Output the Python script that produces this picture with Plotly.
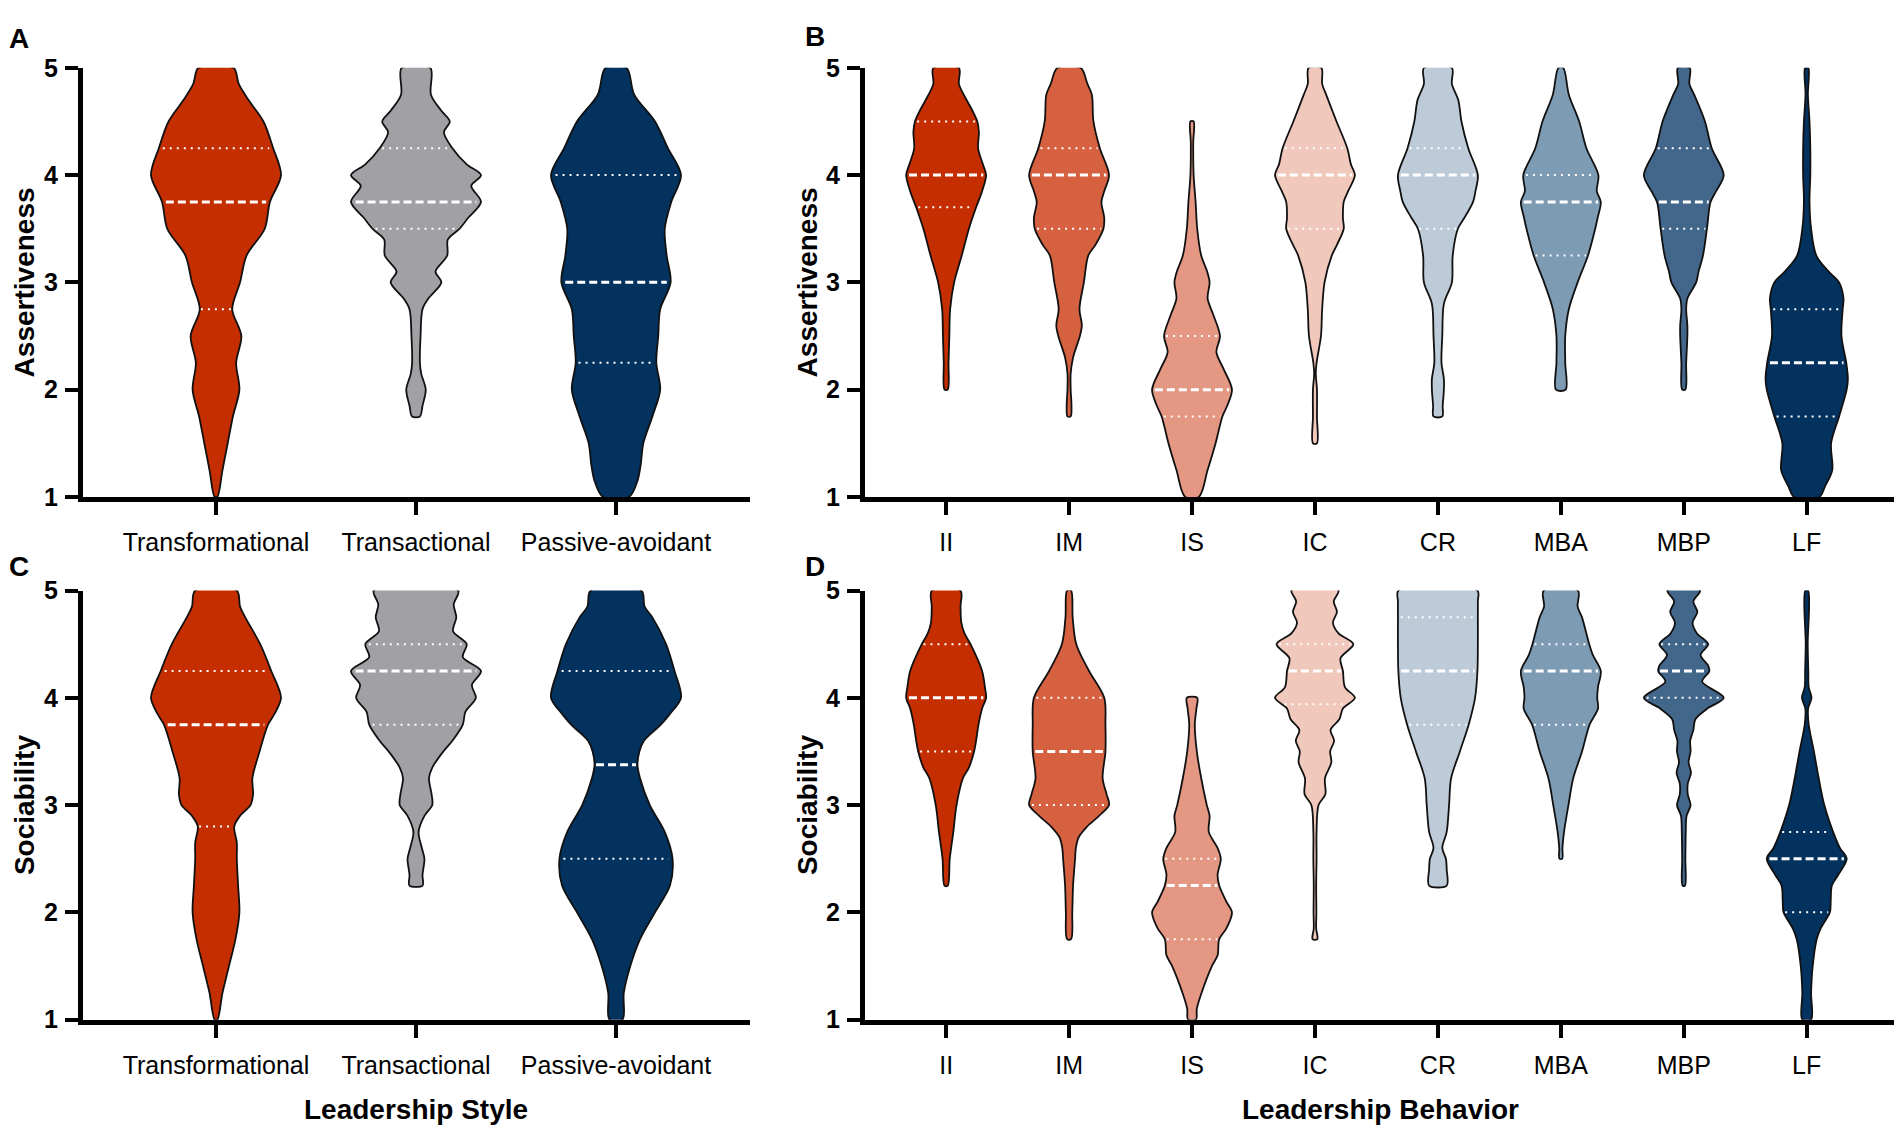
import numpy as np
import plotly.graph_objects as go

STYLES = ["Transformational", "Transactional", "Passive-avoidant"]
BEHAVIORS = ["II", "IM", "IS", "IC", "CR", "MBA", "MBP", "LF"]

STYLE_COLORS = ["#c52e00", "#a0a0a5", "#03325f"]
BEHAVIOR_COLORS = ["#c52e00", "#d66141", "#e49783", "#f1c8bc",
                   "#bdcbd8", "#7e9bb4", "#43678b", "#03325f"]

# violin outlines: (score, relative half-width), bottom -> top
ASSERT_STYLE = {
    "Transformational": [(1.0, 0.02), (1.25, 0.10), (1.5, 0.18), (1.75, 0.26), (2.0, 0.36),
                         (2.25, 0.31), (2.5, 0.39), (2.75, 0.25), (3.0, 0.37), (3.25, 0.47),
                         (3.5, 0.75), (3.75, 0.83), (4.0, 1.0), (4.25, 0.88), (4.5, 0.73),
                         (4.7, 0.50), (4.85, 0.35), (5.0, 0.27)],
    "Transactional": [(1.75, 0.06), (1.85, 0.10), (2.0, 0.15), (2.15, 0.08), (2.25, 0.06),
                      (2.5, 0.07), (2.75, 0.10), (2.85, 0.19), (3.0, 0.39), (3.1, 0.30),
                      (3.25, 0.48), (3.4, 0.49), (3.5, 0.67), (3.6, 0.80), (3.75, 1.0),
                      (3.9, 0.85), (4.0, 1.0), (4.1, 0.78), (4.25, 0.56), (4.4, 0.43),
                      (4.5, 0.52), (4.6, 0.39), (4.75, 0.23), (5.0, 0.22)],
    "Passive-avoidant": [(1.0, 0.20), (1.15, 0.33), (1.3, 0.38), (1.5, 0.42), (1.75, 0.56),
                         (2.0, 0.68), (2.25, 0.62), (2.5, 0.65), (2.75, 0.68), (3.0, 0.84),
                         (3.25, 0.78), (3.5, 0.75), (3.75, 0.85), (4.0, 1.0), (4.25, 0.80),
                         (4.5, 0.60), (4.75, 0.28), (5.0, 0.16)],
}
ASSERT_STYLE_Q = {"Transformational": (2.75, 3.75, 4.25),
                  "Transactional": (3.5, 3.75, 4.25),
                  "Passive-avoidant": (2.25, 3.0, 4.0)}

ASSERT_BEHAV = {
    "II": [(2.0, 0.04), (2.25, 0.06), (2.5, 0.08), (2.75, 0.10), (3.0, 0.20), (3.25, 0.39),
           (3.5, 0.57), (3.7, 0.75), (3.85, 0.90), (4.0, 1.0), (4.1, 0.92), (4.25, 0.80),
           (4.4, 0.82), (4.5, 0.78), (4.6, 0.66), (4.75, 0.44), (4.85, 0.32), (5.0, 0.32)],
    "IM": [(1.75, 0.04), (1.85, 0.06), (2.0, 0.04), (2.15, 0.04), (2.3, 0.10), (2.5, 0.27),
           (2.6, 0.32), (2.75, 0.26), (3.0, 0.37), (3.25, 0.48), (3.35, 0.66), (3.5, 0.86),
           (3.6, 0.88), (3.75, 0.81), (3.85, 0.88), (4.0, 1.0), (4.25, 0.77), (4.5, 0.61),
           (4.75, 0.57), (4.85, 0.46), (5.0, 0.29)],
    "IS": [(1.0, 0.17), (1.25, 0.39), (1.5, 0.59), (1.75, 0.76), (1.85, 0.88), (2.0, 1.0),
           (2.2, 0.78), (2.35, 0.61), (2.5, 0.70), (2.7, 0.53), (2.85, 0.39), (3.0, 0.44),
           (3.1, 0.38), (3.25, 0.23), (3.5, 0.13), (3.75, 0.09), (4.0, 0.04), (4.3, 0.03),
           (4.5, 0.04)],
    "IC": [(1.5, 0.05), (1.75, 0.05), (2.0, 0.05), (2.15, 0.02), (2.25, 0.04), (2.5, 0.15),
           (2.75, 0.18), (3.0, 0.24), (3.25, 0.42), (3.35, 0.55), (3.5, 0.72), (3.6, 0.70),
           (3.75, 0.72), (3.85, 0.83), (4.0, 1.0), (4.1, 0.90), (4.25, 0.81), (4.5, 0.54),
           (4.75, 0.28), (4.85, 0.18), (5.0, 0.16)],
    "CR": [(1.75, 0.11), (1.85, 0.12), (2.0, 0.15), (2.1, 0.15), (2.25, 0.09), (2.5, 0.11),
           (2.8, 0.15), (3.0, 0.35), (3.25, 0.37), (3.5, 0.50), (3.6, 0.66), (3.75, 0.88),
           (3.85, 0.94), (4.0, 1.0), (4.25, 0.76), (4.5, 0.59), (4.7, 0.51), (4.85, 0.35),
           (5.0, 0.35)],
    "MBA": [(2.0, 0.12), (2.25, 0.11), (2.5, 0.11), (2.75, 0.20), (3.0, 0.42), (3.25, 0.68),
            (3.5, 0.86), (3.6, 0.92), (3.75, 1.0), (3.85, 0.90), (4.0, 0.94), (4.25, 0.64),
            (4.5, 0.46), (4.75, 0.20), (5.0, 0.06)],
    "MBP": [(2.0, 0.04), (2.25, 0.06), (2.5, 0.09), (2.6, 0.09), (2.75, 0.06), (2.85, 0.09),
            (3.0, 0.31), (3.1, 0.37), (3.25, 0.48), (3.5, 0.58), (3.75, 0.67), (3.85, 0.81),
            (4.0, 1.0), (4.25, 0.70), (4.5, 0.53), (4.75, 0.26), (4.85, 0.14), (5.0, 0.15)],
    "LF": [(1.0, 0.32), (1.1, 0.46), (1.25, 0.64), (1.5, 0.61), (1.75, 0.81), (2.0, 1.0),
           (2.1, 1.03), (2.25, 0.99), (2.5, 0.87), (2.75, 0.90), (2.85, 0.92), (3.0, 0.81),
           (3.1, 0.55), (3.25, 0.24), (3.5, 0.11), (3.75, 0.07), (4.0, 0.09), (4.25, 0.09),
           (4.5, 0.07), (4.75, 0.03), (5.0, 0.04)],
}
ASSERT_BEHAV_Q = {"II": (3.7, 4.0, 4.5), "IM": (3.5, 4.0, 4.25), "IS": (1.75, 2.0, 2.5),
                  "IC": (3.5, 4.0, 4.25), "CR": (3.5, 4.0, 4.25), "MBA": (3.25, 3.75, 4.0),
                  "MBP": (3.5, 3.75, 4.25), "LF": (1.75, 2.25, 2.75)}

SOCIAL_STYLE = {
    "Transformational": [(1.0, 0.02), (1.25, 0.10), (1.5, 0.20), (1.75, 0.30), (2.0, 0.36),
                         (2.25, 0.34), (2.5, 0.32), (2.65, 0.32), (2.8, 0.28), (2.9, 0.37),
                         (3.0, 0.53), (3.1, 0.57), (3.25, 0.56), (3.5, 0.67), (3.75, 0.80),
                         (3.85, 0.90), (4.0, 1.0), (4.25, 0.85), (4.5, 0.68), (4.75, 0.45),
                         (4.85, 0.37), (5.0, 0.32)],
    "Transactional": [(2.25, 0.10), (2.35, 0.10), (2.5, 0.13), (2.6, 0.09), (2.75, 0.04),
                      (2.9, 0.13), (3.0, 0.25), (3.1, 0.24), (3.25, 0.20), (3.35, 0.25),
                      (3.5, 0.42), (3.6, 0.56), (3.75, 0.72), (3.87, 0.76), (4.0, 0.92),
                      (4.12, 0.86), (4.25, 1.0), (4.38, 0.72), (4.5, 0.78), (4.62, 0.57),
                      (4.75, 0.62), (4.87, 0.58), (5.0, 0.65)],
    "Passive-avoidant": [(1.0, 0.10), (1.25, 0.12), (1.5, 0.22), (1.75, 0.37), (2.0, 0.60),
                         (2.25, 0.83), (2.5, 0.87), (2.75, 0.75), (3.0, 0.52), (3.25, 0.37),
                         (3.375, 0.33), (3.5, 0.36), (3.6, 0.43), (3.75, 0.69), (3.85, 0.83),
                         (4.0, 1.0), (4.25, 0.90), (4.5, 0.77), (4.75, 0.56), (4.85, 0.44),
                         (5.0, 0.39)],
}
SOCIAL_STYLE_Q = {"Transformational": (2.8, 3.75, 4.25),
                  "Transactional": (3.75, 4.25, 4.5),
                  "Passive-avoidant": (2.5, 3.375, 4.25)}

SOCIAL_BEHAV = {
    "II": [(2.25, 0.04), (2.5, 0.09), (2.75, 0.18), (3.0, 0.26), (3.25, 0.42), (3.35, 0.57),
           (3.5, 0.70), (3.6, 0.75), (3.75, 0.81), (3.9, 0.90), (4.0, 1.0), (4.1, 0.97),
           (4.25, 0.90), (4.5, 0.61), (4.6, 0.46), (4.7, 0.38), (4.85, 0.36), (5.0, 0.36)],
    "IM": [(1.75, 0.05), (2.0, 0.08), (2.25, 0.10), (2.5, 0.15), (2.6, 0.17), (2.7, 0.24),
           (2.8, 0.45), (2.9, 0.75), (3.0, 1.0), (3.1, 0.94), (3.25, 0.84), (3.5, 0.91),
           (3.75, 0.91), (4.0, 0.88), (4.25, 0.50), (4.5, 0.18), (4.75, 0.09), (5.0, 0.05)],
    "IS": [(1.0, 0.10), (1.1, 0.12), (1.25, 0.24), (1.5, 0.50), (1.6, 0.64), (1.75, 0.68),
           (1.85, 0.86), (2.0, 1.0), (2.1, 0.86), (2.25, 0.68), (2.35, 0.64), (2.5, 0.72),
           (2.6, 0.64), (2.75, 0.42), (2.9, 0.44), (3.0, 0.37), (3.25, 0.23), (3.5, 0.12),
           (3.75, 0.07), (3.9, 0.11), (4.0, 0.13)],
    "IC": [(1.75, 0.06), (1.85, 0.03), (2.0, 0.035), (2.25, 0.03), (2.5, 0.04), (2.75, 0.04),
           (3.0, 0.09), (3.1, 0.26), (3.25, 0.25), (3.4, 0.41), (3.5, 0.38), (3.6, 0.48),
           (3.7, 0.39), (3.8, 0.61), (3.9, 0.70), (4.0, 1.0), (4.1, 0.75), (4.25, 0.70),
           (4.37, 0.64), (4.5, 0.96), (4.6, 0.59), (4.7, 0.45), (4.8, 0.55), (4.9, 0.47),
           (5.0, 0.59)],
    "CR": [(2.25, 0.22), (2.4, 0.22), (2.5, 0.20), (2.6, 0.11), (2.75, 0.22), (3.0, 0.28),
           (3.25, 0.33), (3.5, 0.55), (3.75, 0.77), (4.0, 0.93), (4.25, 0.99), (4.5, 1.0),
           (4.75, 1.0), (4.9, 1.0), (5.0, 0.99)],
    "MBA": [(2.5, 0.035), (2.6, 0.04), (2.75, 0.08), (3.0, 0.19), (3.25, 0.31), (3.5, 0.53),
            (3.75, 0.72), (3.9, 0.93), (4.0, 0.91), (4.1, 0.93), (4.25, 1.0), (4.4, 0.80),
            (4.5, 0.71), (4.75, 0.53), (4.85, 0.42), (5.0, 0.43)],
    "MBP": [(2.25, 0.03), (2.5, 0.04), (2.75, 0.05), (2.9, 0.07), (3.0, 0.17), (3.1, 0.10),
            (3.2, 0.10), (3.3, 0.18), (3.4, 0.12), (3.5, 0.17), (3.6, 0.16), (3.7, 0.24),
            (3.8, 0.29), (3.9, 0.59), (4.0, 1.0), (4.15, 0.46), (4.25, 0.64), (4.3, 0.61),
            (4.4, 0.42), (4.5, 0.61), (4.6, 0.33), (4.7, 0.22), (4.8, 0.34), (4.9, 0.24),
            (5.0, 0.41)],
    "LF": [(1.0, 0.11), (1.25, 0.11), (1.5, 0.15), (1.75, 0.25), (1.85, 0.35), (2.0, 0.58),
           (2.1, 0.60), (2.25, 0.63), (2.35, 0.79), (2.5, 1.0), (2.6, 0.83), (2.75, 0.66),
           (3.0, 0.44), (3.25, 0.30), (3.5, 0.18), (3.75, 0.05), (3.9, 0.035), (4.0, 0.12),
           (4.1, 0.05), (4.25, 0.04), (4.5, 0.025), (5.0, 0.035)],
}
SOCIAL_BEHAV_Q = {"II": (3.5, 4.0, 4.5), "IM": (3.0, 3.5, 4.0), "IS": (1.75, 2.25, 2.5),
                  "IC": (3.94, 4.25, 4.5), "CR": (3.75, 4.25, 4.75), "MBA": (3.75, 4.25, 4.5),
                  "MBP": (4.0, 4.25, 4.5), "LF": (2.0, 2.5, 2.75)}

FONT = "Arial, Liberation Sans, Helvetica, sans-serif"
HALF = 0.325  # max half-width of a violin, in category units

# the page body has an 8px margin, so size the figure to fit inside it
PAD = 8
W, H = 1902 - 2 * PAD, 1145 - 2 * PAD


def px(x):
    return (x - PAD) / W


def py(y):
    return 1 - (y - PAD) / H


def add_violins(fig, cats, colors, shapes, quarts, xa, ya):
    for i, cat in enumerate(cats):
        pos = i + 1
        pts = np.array(shapes[cat])
        ys, ws = pts[:, 0], pts[:, 1] * HALF
        xs = np.concatenate([pos + ws, (pos - ws)[::-1], [pos + ws[0]]])
        yy = np.concatenate([ys, ys[::-1], [ys[0]]])
        fig.add_trace(go.Scatter(
            x=xs, y=yy, mode="lines", fill="toself", fillcolor=colors[i],
            line=dict(color="#111111", width=1.8, shape="spline", smoothing=0.9),
            xaxis=xa, yaxis=ya, hoverinfo="skip", showlegend=False))
        for k, q in enumerate(quarts[cat]):
            w = np.interp(q, ys, ws) * 0.93
            fig.add_trace(go.Scatter(
                x=[pos - w, pos + w], y=[q, q], mode="lines",
                line=dict(color="white", width=3 if k == 1 else 2,
                          dash="8px,4px" if k == 1 else "2px,5px"),
                xaxis=xa, yaxis=ya, hoverinfo="skip", showlegend=False))


fig = go.Figure()
add_violins(fig, STYLES, STYLE_COLORS, ASSERT_STYLE, ASSERT_STYLE_Q, "x", "y")
add_violins(fig, BEHAVIORS, BEHAVIOR_COLORS, ASSERT_BEHAV, ASSERT_BEHAV_Q, "x2", "y2")
add_violins(fig, STYLES, STYLE_COLORS, SOCIAL_STYLE, SOCIAL_STYLE_Q, "x3", "y3")
add_violins(fig, BEHAVIORS, BEHAVIOR_COLORS, SOCIAL_BEHAV, SOCIAL_BEHAV_Q, "x4", "y4")

LEFT_DOM = [px(83), px(750)]
RIGHT_DOM = [px(865), px(1894)]
TOP_DOM = [py(495), py(55)]
BOT_DOM = [py(1031), py(591)]


def xaxis(dom, cats, yanchor, rng):
    return dict(domain=dom, range=rng, anchor=yanchor, tickvals=list(range(1, len(cats) + 1)),
                ticktext=cats, showgrid=False, zeroline=False, showline=True,
                linecolor="black", linewidth=5, ticks="outside", ticklen=13, tickwidth=3.5,
                tickcolor="black", ticklabelstandoff=6,
                tickfont=dict(family=FONT, size=25, color="black"))


def yaxis(dom, xanchor):
    return dict(domain=dom, range=[1, 5], anchor=xanchor, tickvals=[1, 2, 3, 4, 5],
                showgrid=False, zeroline=False, showline=True, linecolor="black",
                linewidth=5, ticks="outside", ticklen=13, tickwidth=3.5, tickcolor="black",
                ticklabelstandoff=2,
                tickfont=dict(family=FONT, size=25, color="black", weight="bold"))


RNG_A = [0.335, 3.67]
RNG_B = [0.34, 8.71]

annotations = []
for txt, x, y in [("A", 19, 25), ("B", 815, 23), ("C", 19, 566), ("D", 815, 566)]:
    annotations.append(dict(text=txt, x=px(x), y=py(y), xref="paper", yref="paper",
                            showarrow=False, xanchor="center", yanchor="middle",
                            font=dict(family=FONT, size=28, color="black", weight="bold")))
for txt, x, y in [("Assertiveness", 24, 275), ("Assertiveness", 807, 275),
                  ("Sociability", 24, 811), ("Sociability", 807, 811)]:
    annotations.append(dict(text=txt, x=px(x), y=py(y), xref="paper", yref="paper",
                            showarrow=False, textangle=-90, xanchor="center", yanchor="middle",
                            font=dict(family=FONT, size=28, color="black", weight="bold")))
for txt, x in [("Leadership Style", 416), ("Leadership Behavior", 1380)]:
    annotations.append(dict(text=txt, x=px(x), y=py(1123), xref="paper", yref="paper",
                            showarrow=False, xanchor="center", yanchor="middle",
                            font=dict(family=FONT, size=28, color="black", weight="bold")))

fig.update_layout(
    width=W, height=H, autosize=False, margin=dict(l=0, r=0, t=0, b=0),
    paper_bgcolor="white", plot_bgcolor="white", showlegend=False,
    xaxis=xaxis(LEFT_DOM, STYLES, "y", RNG_A),
    xaxis2=xaxis(RIGHT_DOM, BEHAVIORS, "y2", RNG_B),
    xaxis3=xaxis(LEFT_DOM, STYLES, "y3", RNG_A),
    xaxis4=xaxis(RIGHT_DOM, BEHAVIORS, "y4", RNG_B),
    yaxis=yaxis(TOP_DOM, "x"),
    yaxis2=yaxis(TOP_DOM, "x2"),
    yaxis3=yaxis(BOT_DOM, "x3"),
    yaxis4=yaxis(BOT_DOM, "x4"),
    annotations=annotations,
)

fig.write_html("out.html")
